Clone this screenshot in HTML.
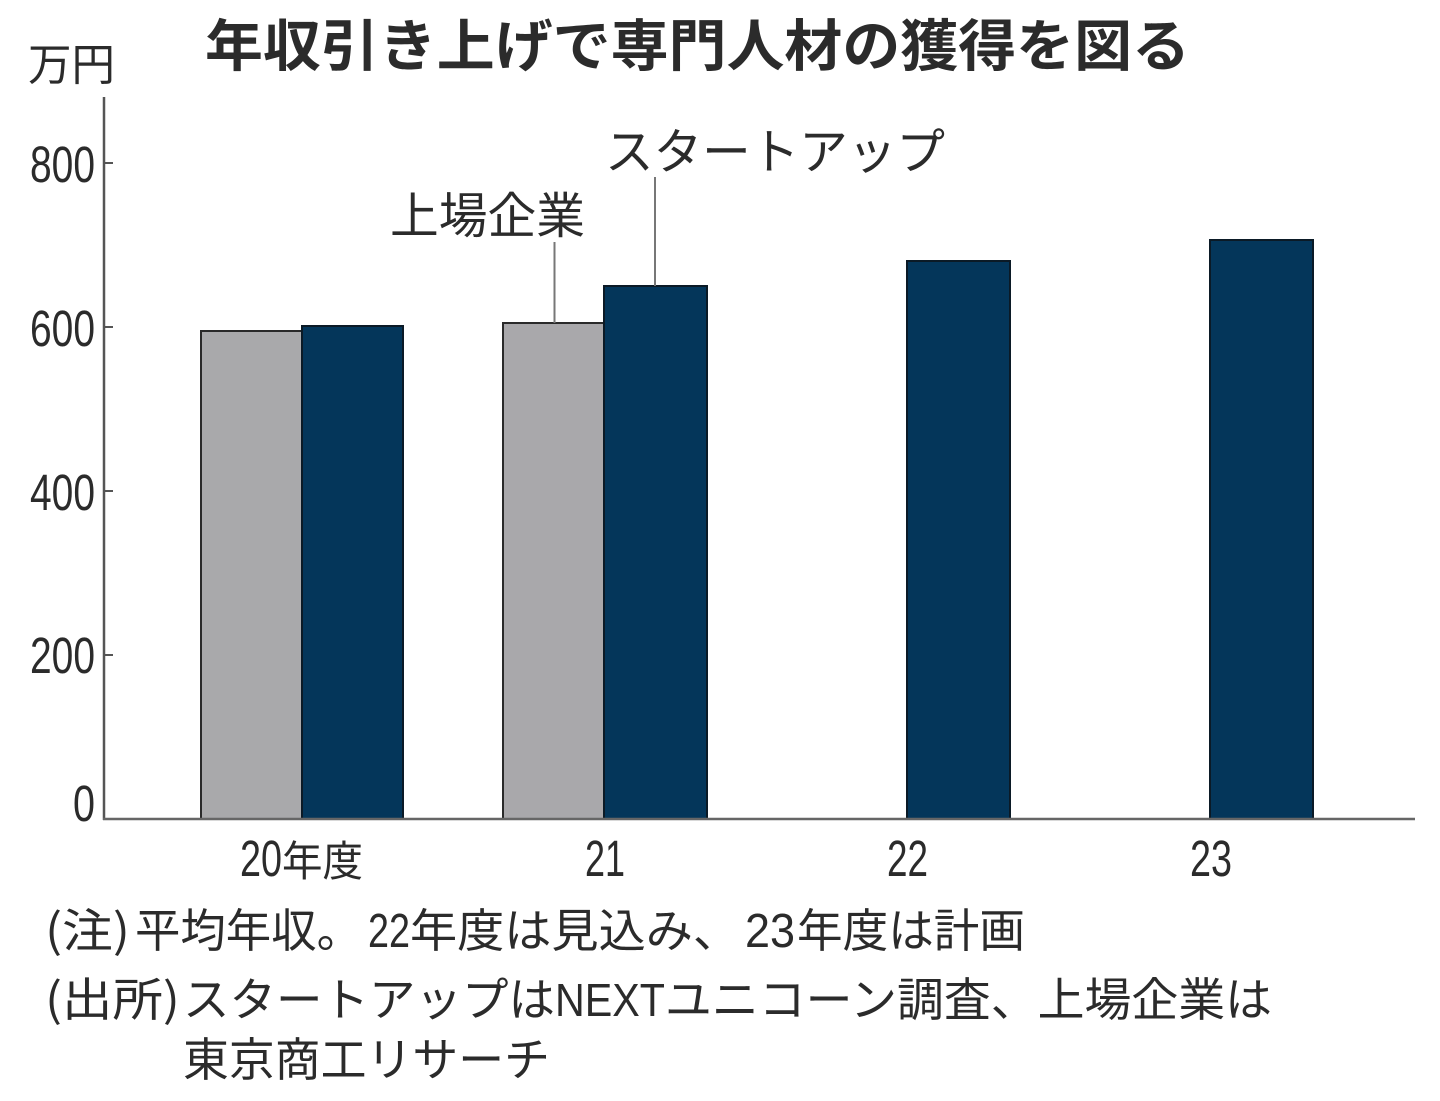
<!DOCTYPE html>
<html><head><meta charset="utf-8"><style>
html,body{margin:0;padding:0;background:#fff;}
svg{display:block;}
text{font-family:"Liberation Sans","Noto Sans CJK JP",sans-serif;fill:#2b2b2b;}
.j{font-family:"Noto Sans CJK JP","Liberation Sans",sans-serif;}
</style></head><body>
<svg width="1440" height="1101" viewBox="0 0 1440 1101" xmlns="http://www.w3.org/2000/svg">
<rect width="1440" height="1101" fill="#fff"/>
<!-- title -->
<text class="j" x="205" y="66" font-size="56" font-weight="700" fill="#1a1a1a" textLength="985" lengthAdjust="spacingAndGlyphs">年収引き上げで専門人材の獲得を図る</text>
<!-- unit -->
<text class="j" x="28" y="80" font-size="44" textLength="87" lengthAdjust="spacingAndGlyphs">万円</text>

<!-- bars -->
<g stroke-width="2">
<rect x="201" y="331" width="101" height="488" fill="#a9a9ab" stroke="#2a2a2a"/>
<rect x="302" y="326" width="101" height="493" fill="#04365a" stroke="#0b1a26"/>
<rect x="503" y="323" width="101" height="496" fill="#a9a8ab" stroke="#2a2a2a"/>
<rect x="604" y="286" width="103" height="533" fill="#04365a" stroke="#0b1a26"/>
<rect x="907" y="261" width="103" height="558" fill="#04365a" stroke="#0b1a26"/>
<rect x="1210" y="240" width="103" height="579" fill="#04365a" stroke="#0b1a26"/>
</g>

<!-- axes -->
<line x1="104" y1="97" x2="104" y2="820" stroke="#555" stroke-width="2.5"/>
<line x1="103" y1="819" x2="1415" y2="819" stroke="#666" stroke-width="2.5"/>
<g stroke="#555" stroke-width="2">
<line x1="104" y1="163" x2="113" y2="163"/>
<line x1="104" y1="327" x2="113" y2="327"/>
<line x1="104" y1="491" x2="113" y2="491"/>
<line x1="104" y1="655" x2="113" y2="655"/>
</g>

<!-- y tick labels -->
<g font-size="51">
<text x="30" y="182" textLength="65" lengthAdjust="spacingAndGlyphs">800</text>
<text x="30" y="346" textLength="65" lengthAdjust="spacingAndGlyphs">600</text>
<text x="30" y="510" textLength="65" lengthAdjust="spacingAndGlyphs">400</text>
<text x="30" y="673" textLength="65" lengthAdjust="spacingAndGlyphs">200</text>
<text x="73" y="821" textLength="22" lengthAdjust="spacingAndGlyphs">0</text>
</g>

<!-- x labels -->
<g font-size="51">
<text x="240" y="876" textLength="42" lengthAdjust="spacingAndGlyphs">20</text>
<text class="j" x="282" y="876" font-size="42" textLength="81" lengthAdjust="spacingAndGlyphs">年度</text>
<text x="585" y="876" textLength="40" lengthAdjust="spacingAndGlyphs">21</text>
<text x="887" y="876" textLength="41" lengthAdjust="spacingAndGlyphs">22</text>
<text x="1190" y="876" textLength="42" lengthAdjust="spacingAndGlyphs">23</text>
</g>

<!-- series labels + leaders -->
<text class="j" x="390" y="233" font-size="49" textLength="195" lengthAdjust="spacingAndGlyphs">上場企業</text>
<text class="j" x="605" y="169" font-size="49" textLength="340" lengthAdjust="spacingAndGlyphs">スタートアップ</text>
<line x1="554.5" y1="242" x2="554.5" y2="323" stroke="#777" stroke-width="2"/>
<line x1="655" y1="177" x2="655" y2="286" stroke="#777" stroke-width="2"/>

<!-- notes -->
<g class="j" font-size="46">
<text class="j" x="45" y="947" textLength="85" lengthAdjust="spacingAndGlyphs">(注)</text>
<text class="j" x="135" y="947" textLength="227" lengthAdjust="spacingAndGlyphs">平均年収。</text>
<text x="368" y="947" font-size="48" textLength="42" lengthAdjust="spacingAndGlyphs">22</text>
<text class="j" x="410" y="947" textLength="330" lengthAdjust="spacingAndGlyphs">年度は見込み、</text>
<text x="745" y="947" font-size="48" textLength="50" lengthAdjust="spacingAndGlyphs">23</text>
<text class="j" x="797" y="947" textLength="228" lengthAdjust="spacingAndGlyphs">年度は計画</text>

<text class="j" x="45" y="1016" textLength="135" lengthAdjust="spacingAndGlyphs">(出所)</text>
<text class="j" x="183" y="1016" textLength="372" lengthAdjust="spacingAndGlyphs">スタートアップは</text>
<text x="555" y="1016" font-size="46" textLength="110" lengthAdjust="spacingAndGlyphs">NEXT</text>
<text class="j" x="665" y="1016" textLength="607" lengthAdjust="spacingAndGlyphs">ユニコーン調査、上場企業は</text>

<text class="j" x="183" y="1076" textLength="367" lengthAdjust="spacingAndGlyphs">東京商工リサーチ</text>
</g>
</svg>
</body></html>
